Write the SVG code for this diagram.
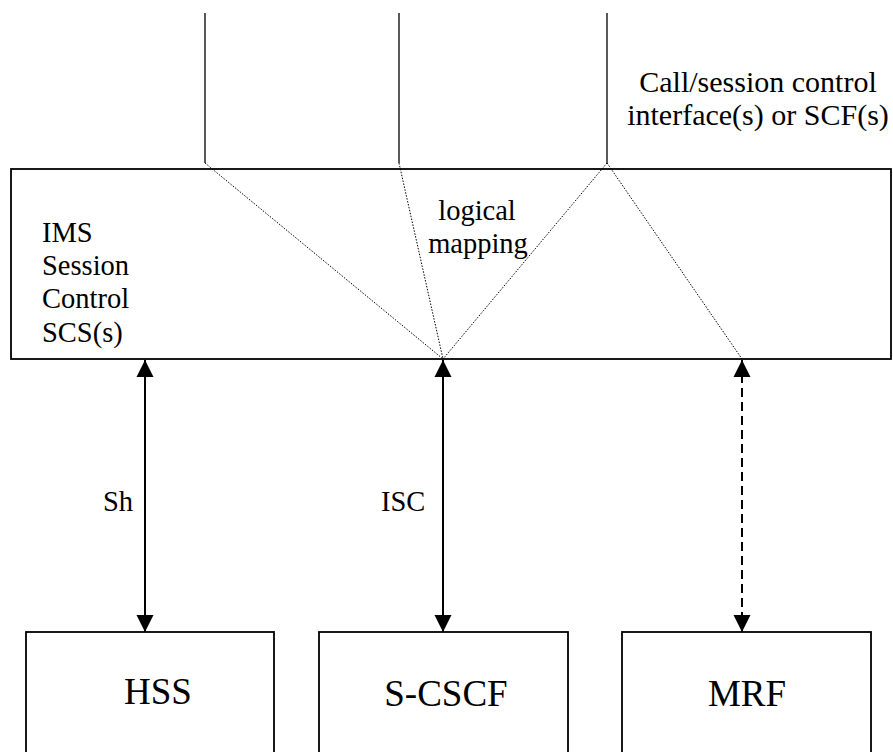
<svg xmlns="http://www.w3.org/2000/svg" width="893" height="752" viewBox="0 0 893 752">
<defs>
<style>
.box{fill:#fff;stroke:#000;stroke-width:1.8}
text{font-family:'Times New Roman','Liberation Serif',Tinos,'DejaVu Serif',serif;fill:#000}
.t{font-size:28.5px}
.tl{font-size:30px;text-anchor:middle}
.big{font-size:37px;text-anchor:middle}
.solid{stroke:#000;stroke-width:1.3;fill:none}
.dot{stroke:#000;stroke-width:1;stroke-dasharray:1.5,1.5;fill:none}
.arr{stroke:#000;stroke-width:2;fill:none;marker-start:url(#ah);marker-end:url(#ah)}
.dash{stroke-dasharray:9,5}
</style>
<marker id="ah" markerUnits="userSpaceOnUse" markerWidth="18" markerHeight="18" refX="17" refY="8.5" orient="auto-start-reverse" viewBox="0 0 18 17">
<path d="M0,0 L17,8.5 L0,17 z" fill="#000"/>
</marker>
</defs>
<g id="scs">
<rect class="box" x="11" y="169" width="880" height="190"/>
<text class="t" x="42" y="242">IMS</text>
<text class="t" x="42" y="275">Session</text>
<text class="t" x="42" y="308">Control</text>
<text class="t" x="42" y="342">SCS(s)</text>
<text class="t" x="477" y="220" text-anchor="middle">logical</text>
<text class="t" x="478" y="253" text-anchor="middle">mapping</text>
</g>
<g id="hss">
<rect class="box" x="26" y="632" width="248" height="140"/>
<text class="big" x="158" y="704">HSS</text>
</g>
<g id="scscf">
<rect class="box" x="319" y="632" width="249" height="140"/>
<text class="big" x="446" y="706">S-CSCF</text>
</g>
<g id="mrf">
<rect class="box" x="622" y="632" width="249" height="140"/>
<text class="big" x="747" y="706">MRF</text>
</g>
<g id="connectors">
<line class="solid" x1="205" y1="13" x2="205" y2="163"/>
<line class="solid" x1="399" y1="13" x2="399" y2="163"/>
<line class="solid" x1="607" y1="13" x2="607" y2="163"/>
<polyline class="dot" points="205,163 443,359"/>
<polyline class="dot" points="399,163 443,359"/>
<polyline class="dot" points="607,163 443,359"/>
<polyline class="dot" points="607,163 742,359"/>
<line class="arr" x1="145" y1="360" x2="145" y2="632"/>
<line class="arr" x1="443" y1="360" x2="443" y2="632"/>
<line class="arr dash" x1="742" y1="360" x2="742" y2="632"/>
<text class="t" x="103" y="511">Sh</text>
<text class="t" x="381" y="511">ISC</text>
<text class="tl" x="758" y="92">Call/session control</text>
<text class="tl" x="758" y="125">interface(s) or SCF(s)</text>
</g>
</svg>
